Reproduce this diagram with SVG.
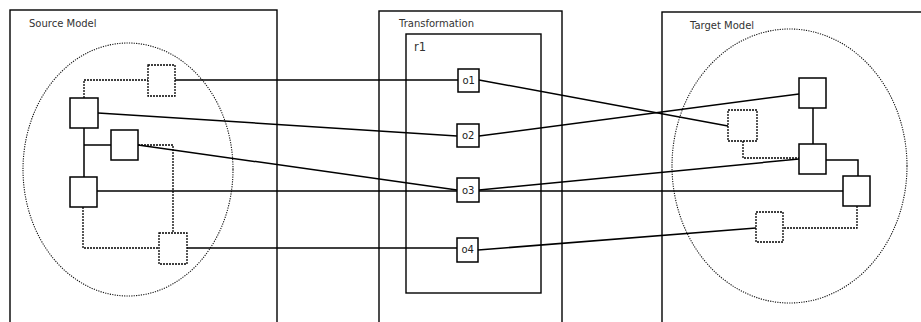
<svg xmlns="http://www.w3.org/2000/svg" width="921" height="322" viewBox="0 0 921 322">
<style>
.frame{fill:none;stroke:#000;stroke-width:1.4}
.ell{fill:none;stroke:#111;stroke-width:1.1;stroke-dasharray:1.2,1.2}
.box{fill:#fff;stroke:#000;stroke-width:1.5}
.dbox{fill:#fff;stroke:#000;stroke-width:1.3;stroke-dasharray:2,1}
.ln{fill:none;stroke:#000;stroke-width:1.5}
.dln{fill:none;stroke:#000;stroke-width:1.3;stroke-dasharray:2,1}
.lbl{font-family:"DejaVu Sans",sans-serif;font-size:10px;fill:#333}
.op{font-family:"DejaVu Sans",sans-serif;font-size:10px;fill:#222}
</style>
<rect width="921" height="322" fill="#fff"/>
<g id="source-model">
<rect class="frame" x="10" y="10" width="267" height="330"/>
<text class="lbl" x="29" y="27">Source Model</text>
<ellipse class="ell" cx="128" cy="169.5" rx="105" ry="126.5"/>
</g>
<g id="transformation">
<rect class="frame" x="379" y="11" width="183" height="330"/>
<text class="lbl" x="399" y="27">Transformation</text>
</g>
<g id="r1">
<rect class="frame" x="406" y="34" width="135" height="259"/>
<text class="lbl" x="414" y="51" style="font-size:11.5px">r1</text>
</g>
<g id="target-model">
<rect class="frame" x="662" y="12" width="280" height="330"/>
<text class="lbl" x="690" y="29">Target Model</text>
<ellipse class="ell" cx="789.5" cy="166" rx="117.5" ry="137"/>
</g>
<g id="connectors">
<path class="dln" d="M84,98 V80 H148"/>
<path class="ln" d="M84,128 V177 M84,145 H111"/>
<path class="dln" d="M138,145 H173 V233"/>
<path class="dln" d="M83,207 V248 H159"/>
<path class="ln" d="M175,80 H458"/>
<path class="ln" d="M98,113 L457,136"/>
<path class="ln" d="M138,145 L457,190"/>
<path class="ln" d="M97,191 H843"/>
<path class="ln" d="M187,248 H457"/>
<path class="ln" d="M479,80 L728,126"/>
<path class="ln" d="M479,136 L799,94"/>
<path class="ln" d="M479,190 L799,159"/>
<path class="ln" d="M478,250 L756,228"/>
<path class="ln" d="M813,108 V144 M826,160 H858 V176"/>
<path class="dln" d="M743,141 V158 H799"/>
<path class="dln" d="M857,206 V228 H783"/>
</g>
<g id="s-dotted-top"><rect class="dbox" x="148" y="65" width="27" height="31"/></g>
<g id="s-a"><rect class="box" x="70" y="98" width="28" height="30"/></g>
<g id="s-b"><rect class="box" x="111" y="130" width="27" height="30"/></g>
<g id="s-c"><rect class="box" x="70" y="177" width="27" height="30"/></g>
<g id="s-dotted-bottom"><rect class="dbox" x="159" y="233" width="28" height="31"/></g>
<g id="o1"><rect class="box" x="458" y="69" width="21" height="23"/><text class="op" x="462.5" y="84">o1</text></g>
<g id="o2"><rect class="box" x="457" y="124" width="22" height="23"/><text class="op" x="462" y="139">o2</text></g>
<g id="o3"><rect class="box" x="457" y="178" width="22" height="24"/><text class="op" x="462" y="194">o3</text></g>
<g id="o4"><rect class="box" x="457" y="238" width="21" height="24"/><text class="op" x="461.5" y="253">o4</text></g>
<g id="t-e"><rect class="dbox" x="728" y="110" width="29" height="31"/></g>
<g id="t-f"><rect class="box" x="799" y="78" width="27" height="30"/></g>
<g id="t-g"><rect class="box" x="799" y="144" width="27" height="30"/></g>
<g id="t-h"><rect class="box" x="843" y="176" width="27" height="30"/></g>
<g id="t-i"><rect class="dbox" x="756" y="212" width="27" height="30"/></g>
</svg>
